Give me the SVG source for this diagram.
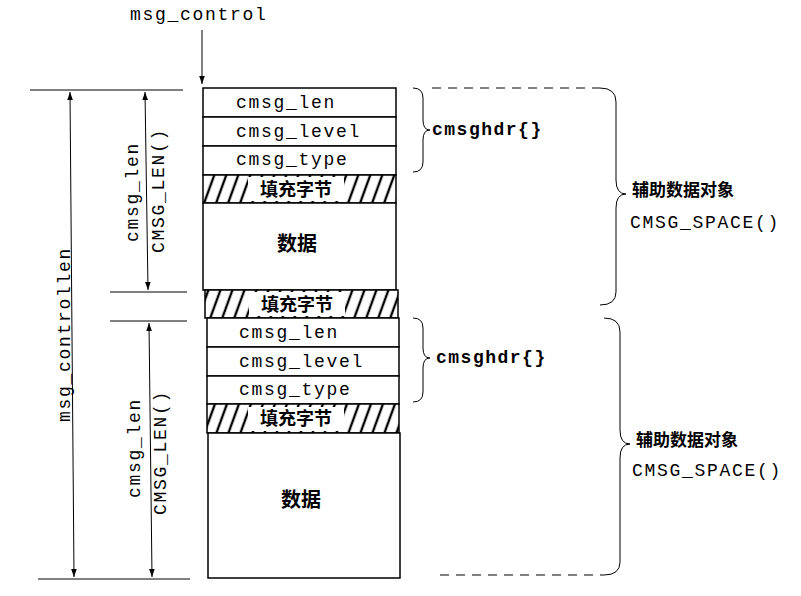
<svg xmlns="http://www.w3.org/2000/svg" width="801" height="596" viewBox="0 0 801 596">
<style>
.m{font-family:"Liberation Mono",monospace;font-size:18px;letter-spacing:1.7px;fill:#000}
.b{font-family:"Liberation Mono",monospace;font-size:18px;letter-spacing:1.5px;font-weight:bold;fill:#000}
.c{font-family:"Noto Sans CJK SC",sans-serif;font-weight:bold;fill:#000}
.s{stroke:#000;stroke-width:1.5;fill:#fff}
.p{stroke:#000;stroke-width:1.5;fill:url(#h)}
.t{stroke:#000;stroke-width:1;fill:none}
.d{stroke:#000;stroke-width:1.2;fill:none;stroke-dasharray:9 7}
</style>
<defs>
<pattern id="h" width="12" height="30" patternUnits="userSpaceOnUse" patternTransform="skewX(-20)">
<rect width="12" height="30" fill="#fff"/><line x1="2" y1="0" x2="2" y2="30" stroke="#000" stroke-width="2.5"/>
</pattern>
<marker id="a" viewBox="0 0 10 10" refX="10" refY="5" markerWidth="8" markerHeight="8" orient="auto-start-reverse"><path d="M0,1.5 L10,5 L0,8.5 Z" fill="#000"/></marker>
</defs>
<rect width="801" height="596" fill="#fff"/>
<text class="m" x="130" y="20">msg_control</text>
<g id="connectors">
<line class="t" x1="202" y1="30" x2="202" y2="84" marker-end="url(#a)"/>
<line class="t" x1="30" y1="90" x2="183" y2="90"/>
<line class="t" x1="38" y1="579" x2="190" y2="579"/>
<line class="t" x1="110" y1="292" x2="187" y2="292"/>
<line class="t" x1="110" y1="321" x2="187" y2="321"/>
<line class="t" x1="70" y1="92" x2="74" y2="577" marker-start="url(#a)" marker-end="url(#a)"/>
<line class="t" x1="145" y1="92" x2="148" y2="290" marker-start="url(#a)" marker-end="url(#a)"/>
<line class="t" x1="149" y1="323" x2="152" y2="577" marker-start="url(#a)" marker-end="url(#a)"/>
</g>
<text class="m" transform="translate(70,422) rotate(-90)">msg_controllen</text>
<text class="m" transform="translate(138,242) rotate(-90)">cmsg_len</text>
<text class="m" transform="translate(164,253) rotate(-90)">CMSG_LEN()</text>
<text class="m" transform="translate(140,498) rotate(-90)">cmsg_len</text>
<text class="m" transform="translate(166,515) rotate(-90)">CMSG_LEN()</text>
<g id="obj1">
<rect class="s" x="203" y="88" width="193" height="29"/>
<rect class="s" x="203" y="117" width="193" height="29"/>
<rect class="s" x="203" y="146" width="193" height="29"/>
<rect class="p" x="203" y="175" width="193" height="28"/>
<rect class="s" x="203" y="203" width="193" height="87"/>
<rect class="p" x="205" y="290" width="193" height="28"/>
<text class="m" x="236" y="108">cmsg_len</text>
<text class="m" x="236" y="137">cmsg_level</text>
<text class="m" x="236" y="165">cmsg_type</text>
<rect x="248" y="177" width="96" height="24" fill="#fff"/>
<text class="c" x="296" y="196" font-size="18" text-anchor="middle">填充字节</text>
<text class="c" x="297" y="251" font-size="20" text-anchor="middle">数据</text>
<rect x="249" y="292" width="96" height="24" fill="#fff"/>
<text class="c" x="297" y="311" font-size="18" text-anchor="middle">填充字节</text>
</g>
<g id="obj2">
<rect class="s" x="207" y="318" width="192" height="29"/>
<rect class="s" x="207" y="347" width="192" height="29"/>
<rect class="s" x="207" y="376" width="192" height="28"/>
<rect class="p" x="207" y="404" width="192" height="29"/>
<rect class="s" x="208" y="433" width="192" height="145"/>
<text class="m" x="239" y="338">cmsg_len</text>
<text class="m" x="239" y="367">cmsg_level</text>
<text class="m" x="239" y="395">cmsg_type</text>
<rect x="248" y="407" width="96" height="24" fill="#fff"/>
<text class="c" x="296" y="425" font-size="18" text-anchor="middle">填充字节</text>
<text class="c" x="301" y="507" font-size="20" text-anchor="middle">数据</text>
</g>
<g id="brace1">
<path class="t" d="M413,88 Q423,88 423,98 L423,120 Q423,130 430,130 Q423,130 423,140 L423,162 Q423,172 413,172"/>
<text class="b" x="432" y="135">cmsghdr{}</text>
</g>
<g id="brace2">
<path class="t" d="M413,318 Q423,318 423,328 L423,348 Q423,358 430,358 Q423,358 423,368 L423,392 Q423,402 413,402"/>
<text class="b" x="436" y="363">cmsghdr{}</text>
</g>
<g id="space1">
<line class="d" x1="432" y1="88" x2="600" y2="88"/>
<path class="t" d="M600,88 Q616,88 616,102 L616,180 Q616,194 626,194 Q616,194 616,208 L616,292 Q616,305 600,305"/>
<text class="c" x="632" y="196" font-size="17">辅助数据对象</text>
<text class="m" x="630" y="228">CMSG_SPACE()</text>
</g>
<g id="space2">
<path class="t" d="M604,318 Q620,318 620,332 L620,430 Q620,444 630,444 Q620,444 620,458 L620,562 Q620,575 604,575"/>
<line class="d" x1="440" y1="575" x2="604" y2="575"/>
<text class="c" x="636" y="446" font-size="17">辅助数据对象</text>
<text class="m" x="632" y="476">CMSG_SPACE()</text>
</g>
</svg>
